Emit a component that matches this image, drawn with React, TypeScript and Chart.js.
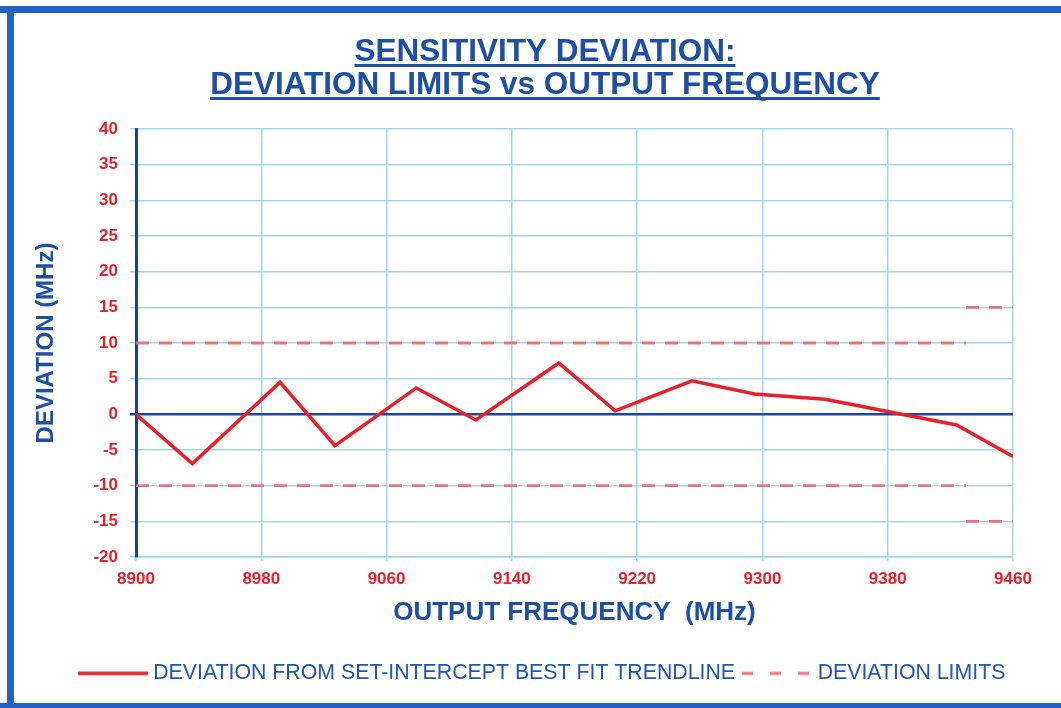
import React, { useEffect, useRef } from "react";
import { Chart, registerables } from "chart.js";

Chart.register(...registerables);

const frequencies = [8900, 8936, 8992, 9027, 9079, 9117, 9170, 9206, 9255, 9295, 9340, 9424, 9460];
const deviations = [0, -6.9, 4.5, -4.4, 3.7, -0.8, 7.2, 0.5, 4.7, 2.85, 2.1, -1.5, -5.9];

const limitFreqs = [8900, 9430, 9430, 9430, 9460];
const upperLimits = [10, 10, null, 15, 15];
const lowerLimits = [-10, -10, null, -15, -15];

const titleLines = ["SENSITIVITY DEVIATION:", "DEVIATION LIMITS vs OUTPUT FREQUENCY"];
const xTitle = "OUTPUT FREQUENCY  (MHz)";
const yTitle = "DEVIATION (MHz)";
const seriesLabel = "DEVIATION FROM SET-INTERCEPT BEST FIT TRENDLINE";
const limitsLabel = "DEVIATION LIMITS";

const BLUE = "#1d4fa6";
const RED = "#e8202a";
const PINK = "rgba(238,105,120,0.95)";
const GRID = "#a3d5f0";
const FONT = "'Liberation Sans', Arial, sans-serif";

function makeSample(color: string, width: number, dash: number[]) {
  const c = document.createElement("canvas");
  c.width = 70;
  c.height = 6;
  const g = c.getContext("2d") as CanvasRenderingContext2D;
  g.strokeStyle = color;
  g.lineWidth = width;
  g.setLineDash(dash);
  g.beginPath();
  g.moveTo(0, 3);
  g.lineTo(70, 3);
  g.stroke();
  return c;
}

const framePlugin = {
  id: "frame",
  beforeDraw(chart: any) {
    const { ctx, width, height } = chart;
    ctx.save();
    ctx.fillStyle = "#ffffff";
    ctx.fillRect(0, 0, width, height);
    ctx.fillStyle = "#2162c4";
    ctx.fillRect(0, 6, width, 7);
    ctx.fillRect(7, 6, 7, height - 6);
    ctx.fillRect(0, height - 5, width, 5);
    ctx.restore();
  },
  afterDraw(chart: any) {
    const { ctx } = chart;
    ctx.save();
    ctx.font = `bold 31.5px ${FONT}`;
    ctx.fillStyle = BLUE;
    ctx.textAlign = "center";
    ctx.textBaseline = "alphabetic";
    const cx = 545;
    const baselines = [61, 94];
    titleLines.forEach((t, i) => {
      ctx.fillText(t, cx, baselines[i]);
      const w = ctx.measureText(t).width;
      ctx.fillRect(cx - w / 2, baselines[i] + 3, w, 3);
    });
    ctx.restore();
  },
};

export default function App() {
  const ref = useRef<HTMLCanvasElement | null>(null);
  useEffect(() => {
    if (!ref.current) return;
    const solidSample = makeSample(RED, 3.5, []);
    const dashSample = makeSample(PINK, 3, [11, 17]);
    const chart = new Chart(ref.current, {
      type: "line",
      data: {
        datasets: [
          {
            label: seriesLabel,
            data: frequencies.map((f, i) => ({ x: f, y: deviations[i] })),
            borderColor: RED,
            backgroundColor: RED,
            borderWidth: 3.5,
            pointRadius: 0,
            pointStyle: solidSample,
            tension: 0,
          },
          {
            label: limitsLabel,
            data: limitFreqs.map((f, i) => ({ x: f, y: upperLimits[i] })),
            borderColor: PINK,
            backgroundColor: PINK,
            borderWidth: 2.8,
            borderDash: [13, 10],
            pointRadius: 0,
            pointStyle: dashSample,
            spanGaps: false,
          },
          {
            label: limitsLabel + " (lower)",
            data: limitFreqs.map((f, i) => ({ x: f, y: lowerLimits[i] })),
            borderColor: PINK,
            backgroundColor: PINK,
            borderWidth: 2.8,
            borderDash: [13, 10],
            pointRadius: 0,
            pointStyle: dashSample,
            spanGaps: false,
          },
        ],
      },
      options: {
        animation: false,
        responsive: false,
        layout: { padding: { top: 129, left: 27, right: 0, bottom: 14 } },
        plugins: {
          title: { display: false },
          tooltip: { enabled: false },
          legend: {
            display: true,
            position: "bottom",
            labels: {
              filter: (item: any) => item.datasetIndex <= 1,
              usePointStyle: true,
              pointStyleWidth: 60,
              boxHeight: 20,
              padding: 12,
              color: "#1f56b8",
              font: { family: FONT, size: 21.3, weight: "normal" },
            },
          },
        },
        scales: {
          x: {
            type: "linear",
            min: 8900,
            max: 9460,
            afterFit: (s: any) => {
              s.height = 708 - 557 - 14 - s.chart.legend.height;
            },
            ticks: {
              stepSize: 80,
              color: RED,
              padding: 8,
              font: { family: FONT, size: 17, weight: "bold" },
              callback: (v: any) => String(v),
            },
            grid: { color: GRID, lineWidth: 1.5, tickLength: 4 },
            border: { color: GRID, width: 1.5 },
            title: {
              display: true,
              text: xTitle,
              color: BLUE,
              font: { family: FONT, size: 26, weight: "bold" },
              padding: { top: 0, bottom: 22 },
            },
          },
          y: {
            type: "linear",
            min: -20,
            max: 40,
            afterFit: (s: any) => {
              s.width = 109;
            },
            ticks: {
              stepSize: 5,
              color: RED,
              padding: 12,
              font: { family: FONT, size: 17, weight: "bold" },
            },
            grid: {
              color: (c: any) => (c.tick && c.tick.value === 0 ? "#1a46a5" : GRID),
              lineWidth: (c: any) => (c.tick && c.tick.value === 0 ? 2.5 : 1.5),
              tickLength: 6,
            },
            border: { color: "#1c3f9a", width: 3 },
            title: {
              display: true,
              text: yTitle,
              color: BLUE,
              font: { family: FONT, size: 24, weight: "bold" },
              padding: { top: 5, bottom: 0 },
            },
          },
          y2: {
            type: "linear",
            position: "right",
            display: true,
            afterFit: (s: any) => {
              s.width = 48;
            },
            ticks: { display: false },
            grid: { display: false },
            border: { display: false },
          },
        },
      },
      plugins: [framePlugin],
    } as any);
    return () => chart.destroy();
  }, []);
  return (
    <div style={{ position: "fixed", left: 0, top: 0, width: 1061, height: 708, background: "#fff" }}>
      <canvas ref={ref} width={1061} height={708} style={{ width: 1061, height: 708, display: "block" }} />
    </div>
  );
}
